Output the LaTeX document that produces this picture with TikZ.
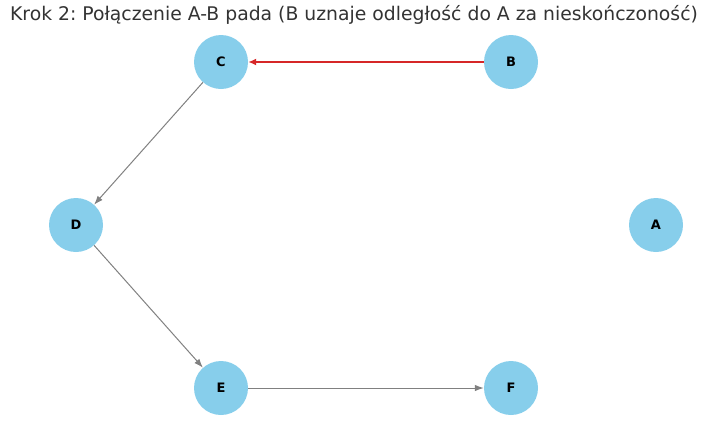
\documentclass[tikz,border=0pt]{standalone}
\usepackage{fontspec}
\setmainfont{DejaVu Sans}
\usetikzlibrary{arrows.meta}
\definecolor{nodeblue}{RGB}{135,206,235}
\definecolor{edgegray}{RGB}{128,128,128}
\definecolor{downred}{RGB}{214,39,40}
\definecolor{titlegray}{RGB}{51,51,51}
\frenchspacing

\begin{document}
\begin{tikzpicture}[x=1pt,y=-1pt,
 router/.style={circle,fill=nodeblue,minimum size=54pt,inner sep=0pt,font=\bfseries\fontsize{13}{15}\selectfont},
 link/.style={draw=edgegray,line width=1pt,-{Latex[length=9pt,width=6.5pt]}}]
\useasboundingbox (0,0) rectangle (706,426);
\node[font=\fontsize{18.8}{22}\selectfont,text=titlegray] (title) at (354,15) {Krok 2: Połączenie A-B pada (B uznaje odległość do A za nieskończoność)};
\foreach \n/\x/\y in {C/221/62,B/511/62,D/76/225,A/656/225,E/221/388,F/511/388}{
 \node[router] (\n) at (\x,\y) {\n};
}
\draw[link] (C) -- (D);
\draw[link] (D) -- (E);
\draw[link] (E) -- (F);
\draw[link,draw=downred,line width=2.5pt,-{Latex[length=8pt,width=7pt]}] (B) -- (C);
\end{tikzpicture}
\end{document}
